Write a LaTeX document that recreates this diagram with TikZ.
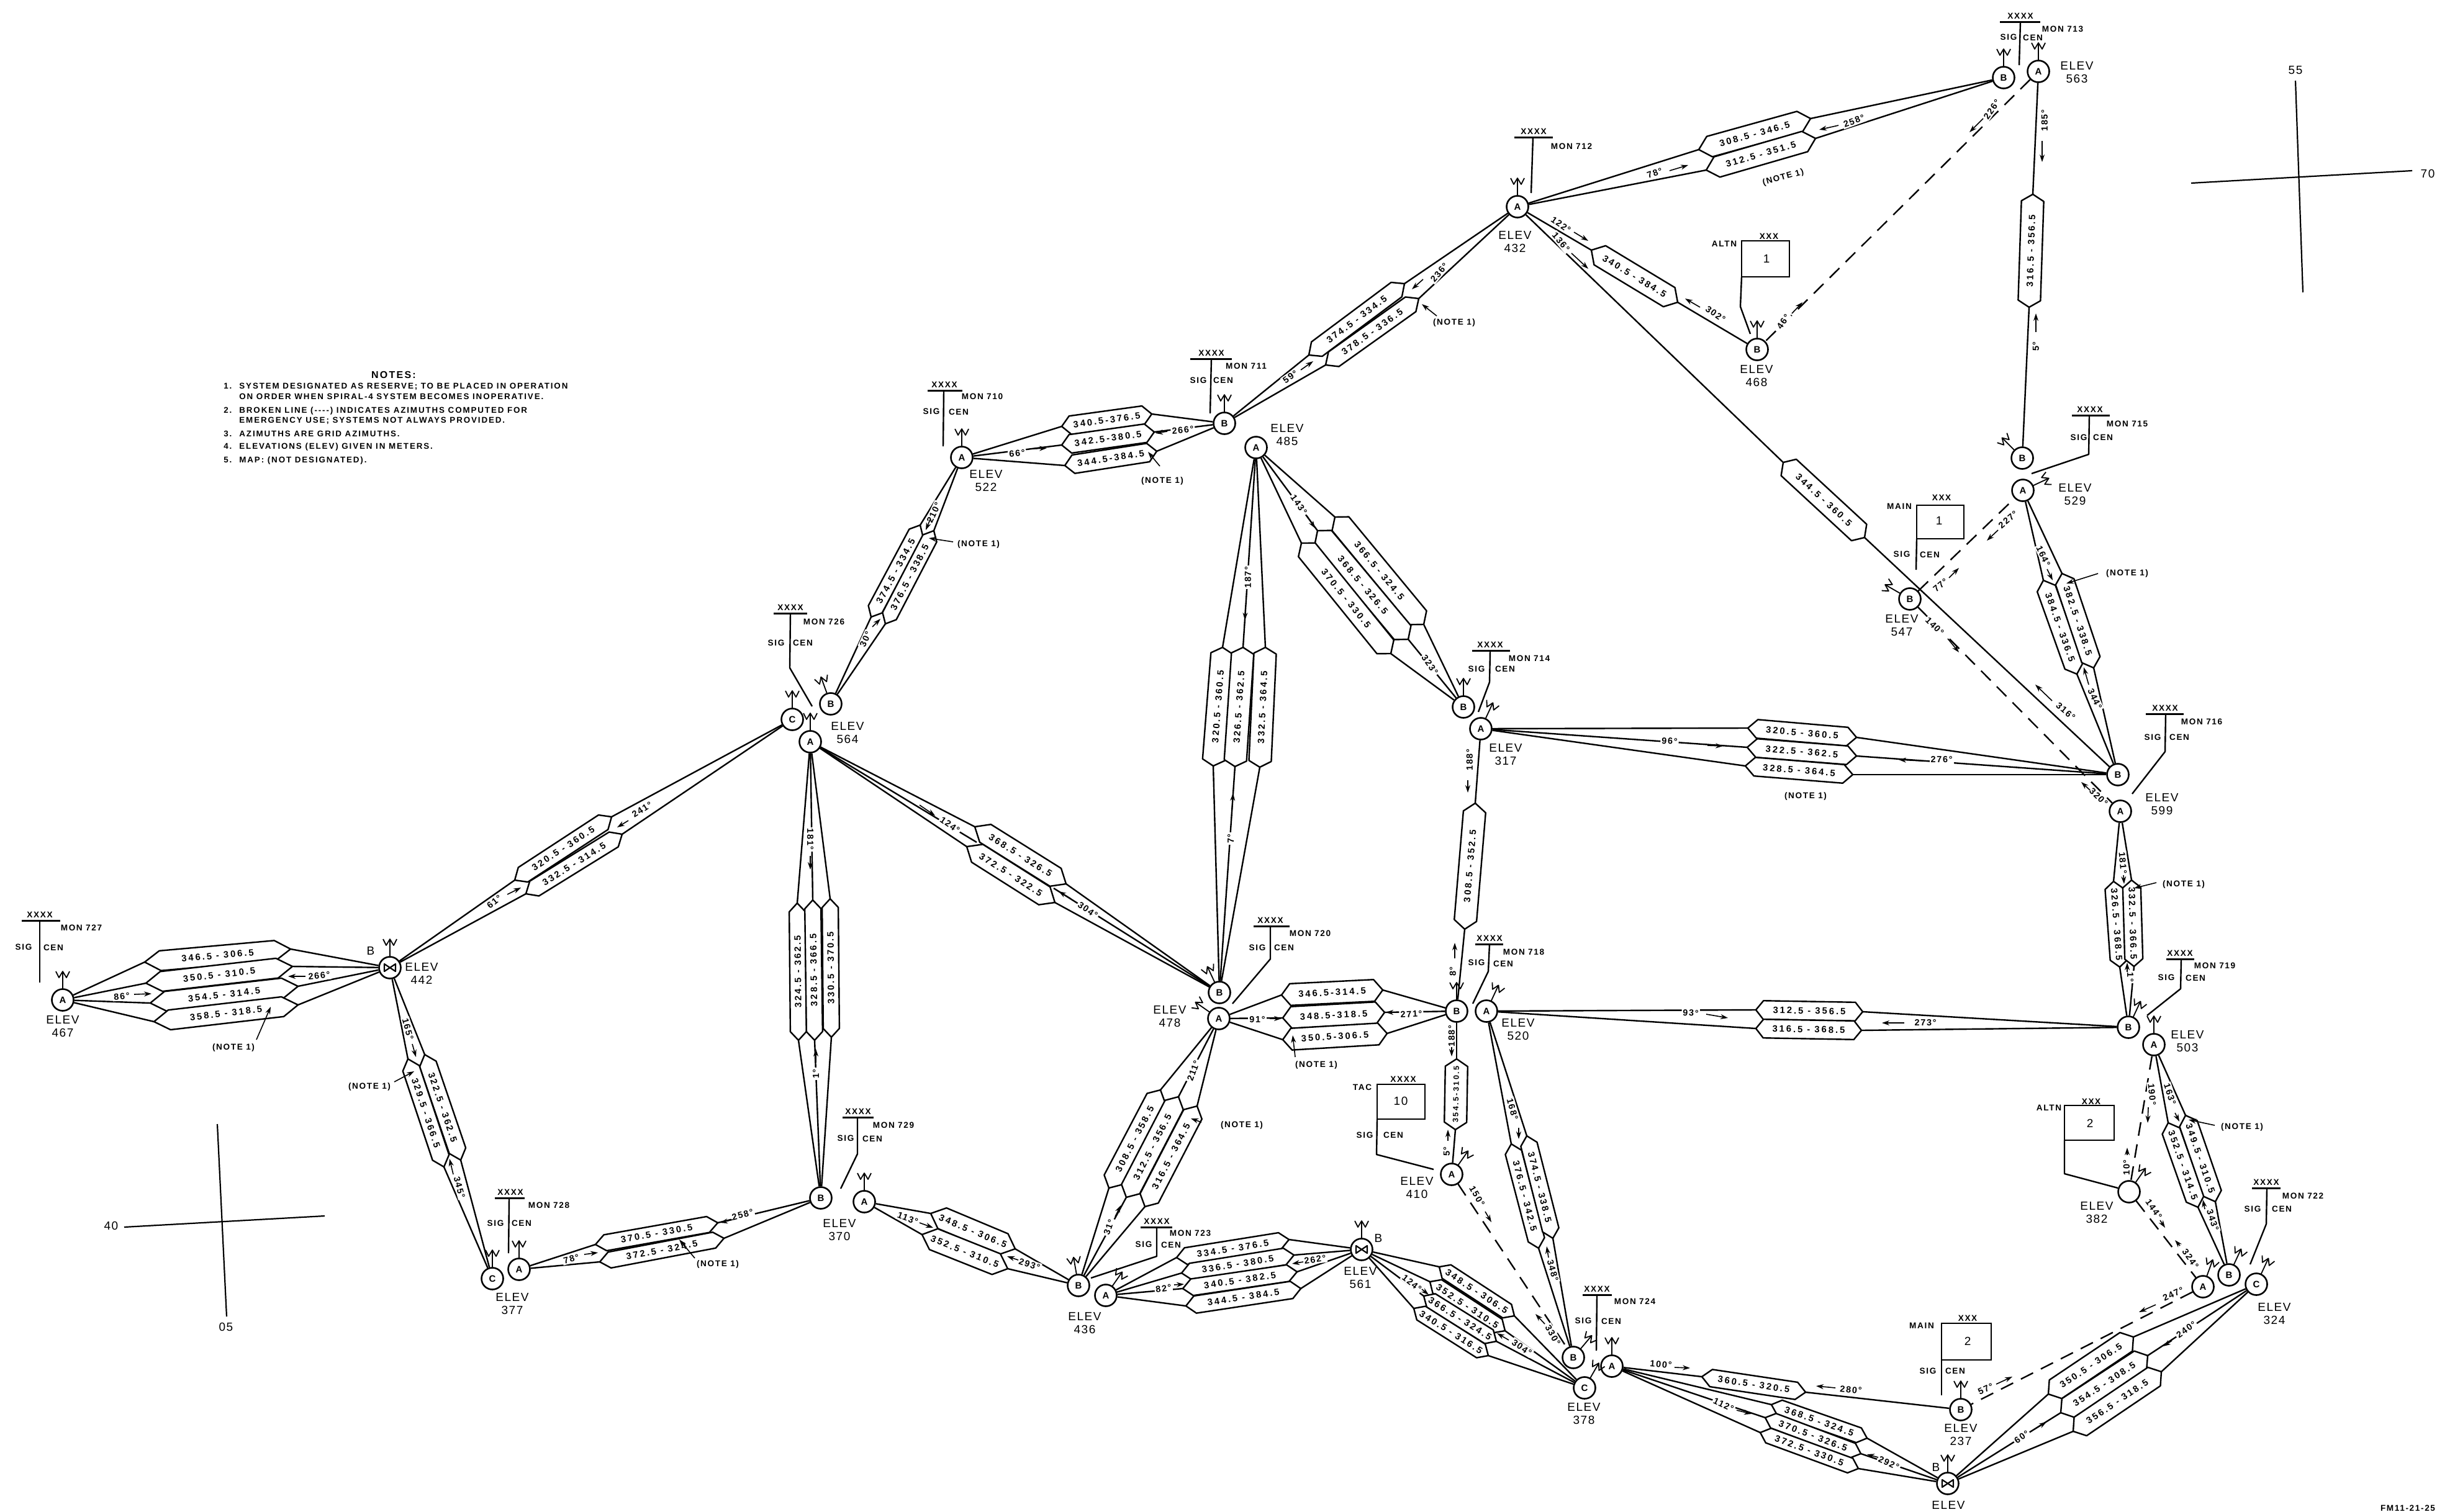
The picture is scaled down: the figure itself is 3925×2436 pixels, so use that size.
\documentclass[tikz,border=0pt]{standalone}
\usepackage{fontspec}
\setmainfont{Liberation Sans}
\newfontfamily\barf[LetterSpace=20]{Liberation Sans}
\newfontfamily\minif[LetterSpace=12]{Liberation Sans}
\newfontfamily\bigf[LetterSpace=8]{Liberation Sans}
\newfontfamily\notef[LetterSpace=14]{Liberation Sans}
\usetikzlibrary{arrows.meta}
\tikzset{
 link/.style={line width=1.2pt,line join=round},
 dashlink/.style={line width=1.2pt,dash pattern=on 11pt off 7pt},
 barshape/.style={draw,fill=white,line width=1.2pt,line join=round},
 bartext/.style={font=\barf\bfseries\fontsize{7.4}{8}\selectfont,inner sep=0pt},
 station/.style={circle,draw,fill=white,line width=1.3pt,minimum size=17.5pt,inner sep=0pt,font=\bfseries\fontsize{7.5}{8}\selectfont},
 minilab/.style={font=\minif\bfseries\fontsize{6.8}{8}\selectfont,inner sep=0pt},
 azlab/.style={font=\minif\bfseries\fontsize{7.2}{8}\selectfont,inner sep=1pt,fill=white},
 biglab/.style={font=\bigf\fontsize{9.5}{10.5}\selectfont,align=center,inner sep=0pt},
 notes/.style={font=\notef\bfseries\fontsize{6.7}{8}\selectfont,anchor=west,inner sep=0pt},
 azarrow/.style={line width=.8pt,-{Stealth[length=6pt,width=4pt]}},
 antline/.style={line width=.9pt,line join=round},
 grid/.style={line width=1.1pt},
 boxline/.style={draw,line width=1.2pt},
}
\newcounter{tx}
\newcommand\lab[3]{\stepcounter{tx}\node[minilab] (t\thetx) at (#1,#2) {#3};}
\newcommand\blab[3]{\stepcounter{tx}\node[biglab] (t\thetx) at (#1,#2) {#3};}
\newcommand\az[4]{\stepcounter{tx}\node[azlab,rotate=#3] (t\thetx) at (#1,#2) {#4};}
\newcommand\elev[3]{\stepcounter{tx}\node[biglab] (t\thetx) at (#1,#2) {ELEV\\#3};}
\newcommand\arr[4]{\stepcounter{tx}\coordinate (u\thetx) at (#1,#2);\coordinate (v\thetx) at (#3,#4);\draw[azarrow] (u\thetx) -- (v\thetx);}
\newcommand\stn[4]{\node[station] (#1) at (#2,#3) {#4};}
\newcommand\stnbow[3]{\node[station] (#1) at (#2,#3) {};
 \draw[line width=1.1pt,line join=round] (#2-9,#3-6) -- (#2+9,#3+6) -- (#2+9,#3-6) -- (#2-9,#3+6) -- cycle;}
\newcommand\ant[2]{\begin{scope}[shift={(#1.center)},rotate=-#2]
 \draw[antline] (0,-18) -- (0,-46);
 \draw[antline] (-11,-46) -- (-6,-36) -- (0,-46) -- (6,-36) -- (11,-46);
 \end{scope}}
\newcommand\conn[2]{\foreach \tp in {#2} {\draw[link] (#1) -- (\tp);}}
\newcommand\hexbar[8]{%
 \pgfmathsetmacro\hdx{#4-#2}\pgfmathsetmacro\hdy{#5-#3}%
 \pgfmathsetmacro\hl{veclen(\hdx,\hdy)}%
 \pgfmathsetmacro\hux{\hdx/\hl}\pgfmathsetmacro\huy{\hdy/\hl}%
 \pgfmathsetmacro\hnx{-\huy*#6}\pgfmathsetmacro\hny{\hux*#6}%
 \pgfmathsetmacro\hcx{\hux*#7}\pgfmathsetmacro\hcy{\huy*#7}%
 \pgfmathsetmacro\hang{atan2(-\hdy,\hdx)}%
 \coordinate (#1a) at (#2,#3);\coordinate (#1b) at (#4,#5);%
 \path[barshape] (#2,#3) -- (#2+\hcx+\hnx,#3+\hcy+\hny) -- (#4-\hcx+\hnx,#5-\hcy+\hny) -- (#4,#5) -- (#4-\hcx-\hnx,#5-\hcy-\hny) -- (#2+\hcx-\hnx,#3+\hcy-\hny) -- cycle;%
 \node[bartext,rotate=\hang] (#1t) at ({(#2+#4)/2},{(#3+#5)/2}) {#8};}
\newcommand\xbar[5]{\draw[link,line width=1.5pt] (#1,#3) -- (#2,#3);\lab{#4}{#3-9}{#5}}
\newcommand\sigcen[4]{\lab{#1}{#2}{SIG}\lab{#3}{#4}{CEN}}
\newcommand\nnum[1]{\makebox[12.5pt][l]{#1}}
\begin{document}
\begin{tikzpicture}[x=0.5pt,y=-0.5pt]
\useasboundingbox (0,0) rectangle (3925,2436);
% ---- stations
\stn{a467}{101}{1611}{A}\stnbow{b442}{628}{1559}\stn{c377}{793}{2060}{C}\stn{a377}{836}{2045}{A}
\stn{a522}{1549}{737}{A}\stn{b564}{1338}{1134}{B}\stn{c564}{1276}{1159}{C}\stn{a564}{1305}{1195}{A}
\stn{b711}{1972}{682}{B}\stn{a485}{2023}{721}{A}\stn{b714}{2357}{1139}{B}\stn{a317}{2385}{1174}{A}
\stn{b478}{1964}{1599}{B}\stn{a478}{1963}{1641}{A}\stn{b520}{2346}{1629}{B}\stn{a520}{2394}{1629}{A}
\stn{a410}{2338}{1892}{A}\stn{b436}{1737}{2071}{B}\stn{a436}{1781}{2087}{A}\stnbow{b561}{2193}{2013}
\stn{b378}{2534}{2187}{B}\stn{c378}{2552}{2236}{C}\stn{a378}{2596}{2201}{A}\stn{b237}{3158}{2271}{B}
\stnbow{bbot}{3137}{2390}\stn{n382}{3429}{1920}{}\stn{a324}{3548}{2073}{A}\stn{b324}{3590}{2054}{B}
\stn{c324}{3634}{2069}{C}\stn{b503}{3428}{1655}{B}\stn{a503}{3469}{1683}{A}\stn{a432}{2444}{333}{A}
\stn{b563}{3227}{125}{B}\stn{a563}{3283}{115}{A}\stn{b468}{2830}{563}{B}\stn{b529}{3257}{738}{B}
\stn{a529}{3258}{790}{A}\stn{b547}{3076}{965}{B}\stn{b599}{3411}{1248}{B}\stn{a599}{3415}{1307}{A}
\stn{a370}{1392}{1936}{A}\stn{b370}{1322}{1930}{B}
% ---- antennas
\ant{a467}{0}\ant{b442}{0}\ant{c377}{0}\ant{a377}{0}\ant{a522}{0}\ant{b711}{0}\ant{b564}{-20}\ant{c564}{0}\ant{a564}{0}
\ant{a432}{0}\ant{b563}{0}\ant{a563}{0}\ant{b468}{0}\ant{b529}{-45}\ant{a529}{65}\ant{b547}{-60}
\ant{b503}{25}\ant{a503}{0}\ant{n382}{35}\ant{a324}{20}\ant{b324}{25}\ant{c324}{25}\ant{b237}{0}\ant{bbot}{0}
\ant{a378}{0}\ant{c378}{30}\ant{b378}{40}\ant{a520}{25}\ant{b520}{0}\ant{a410}{35}\ant{a478}{-55}\ant{b478}{-25}
\ant{b436}{-10}\ant{a436}{35}\ant{b561}{0}\ant{a370}{0}\ant{b714}{0}\ant{a317}{25}
% ---- 467-442
\hexbar{p1}{233}{1550}{468}{1529}{16}{25}{346.5 - 306.5}
\hexbar{p2}{235}{1584}{471}{1557}{16}{25}{350.5 - 310.5}
\hexbar{p3}{242}{1616}{480}{1589}{16}{25}{354.5 - 314.5}
\hexbar{p4}{248}{1646}{480}{1619}{16}{25}{358.5 - 318.5}
\conn{a467}{p1a,p2a,p3a,p4a}\conn{b442}{p1b,p2b,p3b,p4b}
\az{196}{1605}{5}{86°}\arr{216}{1602}{244}{1601}\az{514}{1572}{5}{266°}\arr{492}{1573}{464}{1573}
\lab{376}{1688}{(NOTE 1)}\arr{413}{1675}{436}{1622}
\elev{101}{1654}{467}\elev{679}{1568}{442}\blab{597}{1532}{B}
\xbar{35}{97}{1483}{64}{XXXX}\draw[link] (64,1483) -- (64,1583);\lab{131}{1495}{MON 727}\sigcen{38}{1526}{86}{1527}
% ---- 442-377
\hexbar{q1}{684}{1699}{742}{1869}{14}{16}{322.5 - 362.5}
\hexbar{q2}{657}{1706}{715}{1880}{14}{16}{329.5 - 366.5}
\conn{b442}{q1a,q2a}\conn{c377}{q1b,q2b}
\az{657}{1658}{-75}{165°}\arr{664}{1682}{670}{1703}\lab{595}{1751}{(NOTE 1)}\arr{635}{1743}{667}{1726}
\az{740}{1913}{-75}{345°}\arr{730}{1892}{724}{1867}
\elev{825}{2101}{377}
\xbar{797}{845}{1930}{822}{XXXX}\draw[link] (820,1930) -- (819,2019);\lab{884}{1942}{MON 728}\sigcen{798}{1971}{840}{1971}
% ---- 377-370
\hexbar{r1}{959}{2005}{1156}{1970}{13}{16}{370.5 - 330.5}
\hexbar{r2}{966}{2033}{1166}{1995}{13}{16}{372.5 - 324.5}
\conn{a377}{r1a,r2a}\conn{b370}{r1b,r2b}
\az{920}{2028}{15}{78°}\arr{941}{2021}{963}{2018}\az{1196}{1957}{15}{258°}\arr{1180}{1965}{1160}{1970}
\lab{1156}{2037}{(NOTE 1)}\arr{1119}{2027}{1094}{1997}
% ---- 442-564
\hexbar{s1}{829}{1418}{985}{1316}{14}{16}{320.5 - 360.5}
\hexbar{s2}{847}{1440}{1002}{1344}{14}{16}{332.5 - 314.5}
\conn{b442}{s1a,s2a}\conn{c564}{s1b,s2b}
\az{796}{1453}{38}{61°}\arr{817}{1441}{839}{1430}\az{1034}{1304}{32}{241°}\arr{1012}{1322}{994}{1333}
% ---- 564-522
\hexbar{t1}{1403}{994}{1482}{846}{12.5}{14}{374.5 - 334.5}
\hexbar{t2}{1426}{1005}{1504}{855}{12.5}{14}{376.5 - 338.5}
\conn{b564}{t1a,t2a}\conn{a522}{t1b,t2b}
\az{1504}{826}{65}{210°}\arr{1498}{837}{1491}{854}\az{1394}{1030}{65}{30°}\arr{1405}{1010}{1418}{997}
\lab{1576}{877}{(NOTE 1)}\arr{1535}{873}{1496}{867}
\elev{1588}{775}{522}\elev{1365}{1181}{564}
\xbar{1494}{1550}{629}{1521}{XXXX}\draw[link] (1520,629) -- (1519,719);\lab{1582}{639}{MON 710}\sigcen{1500}{663}{1544}{664}
\xbar{1246}{1300}{988}{1273}{XXXX}\draw[link] (1273,988) -- (1272,1076) -- (1308,1138);\lab{1327}{1002}{MON 726}\sigcen{1250}{1036}{1293}{1036}
% ---- 522-711
\hexbar{v1}{1710}{687}{1855}{667}{15}{14}{340.5-376.5}
\hexbar{v2}{1710}{717}{1859}{696}{15}{14}{342.5-380.5}
\hexbar{v3}{1715}{750}{1863}{727}{15}{14}{344.5-384.5}
\conn{a522}{v1a,v2a,v3a}\conn{b711}{v1b,v2b,v3b}
\az{1638}{730}{5}{66°}\arr{1664}{723}{1686}{722}\az{1905}{693}{5}{266°}\arr{1880}{695}{1861}{698}
\lab{1872}{775}{(NOTE 1)}\arr{1868}{751}{1849}{728}
\xbar{1917}{1984}{578}{1951}{XXXX}\draw[link] (1951,578) -- (1949,666);\lab{2007}{590}{MON 711}\sigcen{1930}{613}{1970}{613}
% ---- 711-432
\hexbar{w1}{2108}{572}{2262}{457}{14.5}{16}{374.5 - 334.5}
\hexbar{w2}{2135}{588}{2285}{481}{14.5}{16}{378.5 - 336.5}
\conn{b711}{w1a,w2a}\conn{a432}{w1b,w2b}
\az{2318}{439}{50}{236°}\arr{2292}{450}{2274}{466}\az{2078}{607}{35}{59°}\arr{2095}{596}{2115}{582}
\lab{2342}{520}{(NOTE 1)}\arr{2314}{509}{2290}{490}
% ---- 432-563
\hexbar{x1}{2736}{241}{2916}{191}{17}{18}{308.5 - 346.5}
\hexbar{x2}{2748}{274}{2924}{223}{17}{18}{312.5 - 351.5}
\conn{a432}{x1a,x2a}\conn{b563}{x1b,x2b}
\az{2665}{279}{20}{78°}\arr{2689}{275}{2719}{266}\az{2986}{195}{20}{258°}\arr{2961}{202}{2930}{209}
\node[minilab,rotate=15] (nx) at (2872,286) {(NOTE 1)};
\elev{2440}{390}{432}
\xbar{2439}{2501}{221}{2470}{XXXX}\draw[link] (2469,221) -- (2466,311);\lab{2531}{236}{MON 712}
\xbar{3221}{3286}{35}{3254}{XXXX}\draw[link] (3254,35) -- (3252,105);\lab{3322}{47}{MON 713}\sigcen{3235}{60}{3274}{61}
\elev{3345}{117}{563}
\draw[dashlink] (a563) -- (b468);
\az{3208}{176}{55}{226°}\arr{3194}{191}{3172}{213}\az{2872}{518}{55}{46°}\arr{2886}{505}{2903}{487}
% ---- 563-529
\hexbar{y1}{3268}{495}{3274}{313}{18}{11}{316.5 - 356.5}
\conn{a563}{y1b}\conn{b529}{y1a}
\az{3293}{194}{90}{185°}\arr{3289}{227}{3289}{261}\az{3279}{558}{90}{5°}\arr{3279}{535}{3279}{505}
% ---- 432-468
\hexbar{z1}{2563}{403}{2702}{487}{18}{16}{340.5 - 384.5}
\conn{a432}{z1a}\conn{b468}{z1b}
\az{2514}{362}{-35}{122°}\arr{2535}{374}{2558}{388}\az{2763}{506}{-35}{302°}\arr{2738}{495}{2714}{481}
% ---- 432-599
\hexbar{z2}{2872}{745}{3003}{866}{18}{12}{344.5 - 360.5}
\conn{a432}{z2a}\conn{b599}{z2b}
\az{2514}{390}{-50}{136°}\arr{2531}{408}{2558}{433}\az{3327}{1146}{-40}{316°}\arr{3305}{1129}{3278}{1103}
% ---- 529-599
\hexbar{aa1}{3291}{935}{3345}{1086}{15.5}{14}{384.5 - 336.5}
\hexbar{aa2}{3321}{924}{3372}{1076}{15.5}{14}{382.5 - 338.5}
\conn{a529}{aa1a,aa2a}\conn{b599}{aa1b,aa2b}
\az{3291}{896}{-65}{164°}\arr{3297}{917}{3306}{935}\az{3374}{1126}{-65}{344°}\arr{3364}{1103}{3356}{1075}
\lab{3426}{924}{(NOTE 1)}\arr{3379}{924}{3328}{940}
\elev{3342}{797}{529}
\xbar{3337}{3398}{669}{3366}{XXXX}\draw[link] (3365,669) -- (3364,732) -- (3272,763);\lab{3426}{683}{MON 715}\sigcen{3348}{705}{3387}{705}
\draw[dashlink] (b547) -- (a529);\draw[dashlink] (b547) -- (a599);
\az{3234}{837}{40}{227°}\arr{3218}{854}{3200}{871}\az{3125}{943}{40}{77°}\arr{3139}{931}{3155}{915}
\az{3116}{1009}{-45}{140°}\arr{3137}{1029}{3155}{1051}\az{3380}{1284}{-45}{320°}\arr{3366}{1273}{3352}{1260}
\draw[boxline] (3087,814) rectangle (3163,868);\draw[link] (3087,868) -- (3086,918);
\lab{3127}{802}{XXX}\lab{3059}{816}{MAIN}\blab{3123}{839}{1}\sigcen{3063}{893}{3108}{894}\elev{3063}{1008}{547}
% ---- 317-599
\hexbar{ab1}{2815}{1173}{2990}{1188}{15}{15}{320.5 - 360.5}
\hexbar{ab2}{2814}{1204}{2990}{1218}{15}{15}{322.5 - 362.5}
\hexbar{ab3}{2811}{1234}{2984}{1248}{15}{15}{328.5 - 364.5}
\conn{a317}{ab1a,ab2a,ab3a}\conn{b599}{ab1b,ab2b,ab3b}
\az{2689}{1194}{-3}{96°}\arr{2750}{1201}{2775}{1202}\az{3127}{1224}{0}{276°}\arr{3096}{1226}{3058}{1224}
\lab{2908}{1283}{(NOTE 1)}
\elev{3482}{1296}{599}
\xbar{3456}{3517}{1150}{3487}{XXXX}\draw[link] (3488,1150) -- (3487,1211) -- (3434,1279);\lab{3546}{1163}{MON 716}\sigcen{3467}{1188}{3510}{1188}
% ---- 599-503
\hexbar{ac1}{3404}{1420}{3414}{1558}{14.5}{12}{326.5 - 368.5}
\hexbar{ac2}{3433}{1418}{3437}{1557}{14.5}{12}{332.5 - 366.5}
\conn{a599}{ac1a,ac2a}\conn{b503}{ac1b,ac2b}
\az{3419}{1390}{-85}{181°}\arr{3420}{1410}{3421}{1424}\az{3431}{1574}{-90}{1°}\arr{3426}{1566}{3426}{1551}
\lab{3517}{1425}{(NOTE 1)}\arr{3473}{1422}{3437}{1431}
\xbar{3489}{3534}{1545}{3511}{XXXX}\draw[link] (3513,1545) -- (3512,1593) -- (3458,1636);\lab{3567}{1556}{MON 719}\sigcen{3489}{1575}{3536}{1576}
\elev{3523}{1678}{503}
% ---- 520-503
\hexbar{ad1}{2828}{1627}{3000}{1630}{15}{12}{312.5 - 356.5}
\hexbar{ad2}{2828}{1657}{2998}{1660}{15}{12}{316.5 - 368.5}
\conn{a520}{ad1a,ad2a}\conn{b503}{ad1b,ad2b}
\az{2723}{1632}{-3}{93°}\arr{2748}{1634}{2783}{1640}\az{3101}{1648}{0}{273°}\arr{3067}{1648}{3031}{1648}
% ---- 520-378
\hexbar{ae1}{2434}{1843}{2478}{2011}{13.5}{14}{376.5 - 342.5}
\hexbar{ae2}{2459}{1830}{2501}{1995}{13.5}{14}{374.5 - 338.5}
\conn{a520}{ae1a,ae2a}\conn{b378}{ae1b,ae2b}
\az{2436}{1787}{-75}{168°}\arr{2446}{1817}{2446}{1835}\az{2501}{2047}{-75}{348°}\arr{2494}{2026}{2491}{2008}
\elev{2445}{1659}{520}
\xbar{2376}{2421}{1521}{2399}{XXXX}\draw[link] (2399,1521) -- (2397,1565) -- (2372,1617);\lab{2454}{1534}{MON 718}\sigcen{2378}{1551}{2421}{1553}
% ---- 520-317
\hexbar{af1}{2359}{1497}{2376}{1294}{18}{14}{308.5 - 352.5}
\conn{b520}{af1a}\conn{a317}{af1b}
\az{2367}{1224}{90}{188°}\arr{2364}{1257}{2364}{1277}\az{2340}{1565}{90}{8°}\arr{2343}{1544}{2343}{1519}
% ---- 520-410
\hexbar{ag1}{2344}{1820}{2346}{1706}{18}{12}{{\fontsize{6.2}{7}\selectfont 354.5-310.5}}
\conn{b520}{ag1b}\conn{a410}{ag1a}
\az{2338}{1669}{90}{188°}\arr{2338}{1687}{2338}{1702}\az{2330}{1855}{90}{5°}\arr{2332}{1838}{2332}{1820}
\draw[boxline] (2218,1747) rectangle (2295,1803);\draw[link] (2218,1803) -- (2217,1860) -- (2309,1884);
\lab{2260}{1739}{XXXX}\lab{2194}{1752}{TAC}\blab{2256}{1774}{10}\sigcen{2198}{1829}{2244}{1829}\elev{2282}{1914}{410}
\draw[dashlink] (a410) -- (b378);
\az{2379}{1927}{-60}{150°}\arr{2392}{1952}{2402}{1969}\az{2501}{2151}{-60}{330°}\arr{2488}{2133}{2473}{2117}
% ---- 478-520
\hexbar{ah1}{2064}{1603}{2227}{1595}{17.5}{14}{346.5-314.5}
\hexbar{ah2}{2066}{1640}{2230}{1631}{17.5}{14}{348.5-318.5}
\hexbar{ah3}{2066}{1675}{2234}{1665}{17.5}{14}{350.5-306.5}
\conn{a478}{ah1a,ah2a,ah3a}\conn{b520}{ah1b,ah2b,ah3b}
\az{2025}{1643}{0}{91°}\arr{2045}{1641}{2064}{1641}\az{2273}{1634}{3}{271°}\arr{2251}{1631}{2232}{1631}
\lab{2120}{1716}{(NOTE 1)}\arr{2086}{1703}{2082}{1668}
\elev{1884}{1638}{478}
\xbar{2019}{2077}{1492}{2046}{XXXX}\draw[link] (2046,1492) -- (2046,1545) -- (1985,1617);\lab{2110}{1504}{MON 720}\sigcen{2025}{1527}{2068}{1527}
% ---- 478-436
\hexbar{ai1}{1786}{1914}{1869}{1756}{16.5}{15}{308.5 - 358.5}
\hexbar{ai2}{1814}{1929}{1898}{1767}{16.5}{15}{312.5 - 356.5}
\hexbar{ai3}{1844}{1944}{1928}{1782}{16.5}{15}{316.5 - 364.5}
\conn{a478}{ai1b,ai2b,ai3b}\conn{b436}{ai1a,ai2a,ai3a}
\az{1922}{1725}{70}{211°}\az{1786}{1977}{70}{31°}\arr{1796}{1960}{1805}{1942}
\lab{2000}{1813}{(NOTE 1)}\arr{1935}{1808}{1918}{1802}
% ---- 436-561
\hexbar{aj1}{1895}{2026}{2076}{1997}{13.5}{15}{334.5 - 376.5}
\hexbar{aj2}{1903}{2051}{2084}{2022}{13.5}{15}{336.5 - 380.5}
\hexbar{aj3}{1905}{2076}{2089}{2049}{13.5}{15}{340.5 - 382.5}
\hexbar{aj4}{1910}{2104}{2095}{2076}{14}{15}{344.5 - 384.5}
\conn{a436}{aj1a,aj2a,aj3a,aj4a}\conn{b561}{aj1b,aj2b,aj3b,aj4b}
\az{1874}{2076}{8}{82°}\arr{1891}{2070}{1907}{2069}\az{2118}{2029}{8}{262°}\arr{2099}{2033}{2081}{2036}
\xbar{1837}{1888}{1977}{1863}{XXXX}\draw[link] (1863,1977) -- (1863,2024) -- (1757,2059);\lab{1917}{1987}{MON 723}\sigcen{1842}{2005}{1886}{2006}
\elev{1747}{2132}{436}\elev{2191}{2059}{561}\blab{2220}{1995}{B}
% ---- 561-378
\hexbar{ak1}{2318}{2041}{2439}{2120}{13}{14}{348.5 - 306.5}
\hexbar{ak2}{2303}{2065}{2424}{2144}{13}{14}{352.5 - 310.5}
\hexbar{ak3}{2293}{2088}{2410}{2161}{13}{14}{366.5 - 324.5}
\hexbar{ak4}{2277}{2108}{2397}{2184}{13}{14}{340.5 - 316.5}
\conn{b561}{ak1a,ak2a,ak3a,ak4a}\conn{c378}{ak1b,ak2b,ak3b,ak4b}
\az{2274}{2067}{-38}{124°}\arr{2290}{2077}{2301}{2086}\az{2451}{2171}{-35}{304°}\arr{2430}{2159}{2411}{2148}
% ---- 564-370
\hexbar{al1}{1286}{1676}{1284}{1455}{13}{14}{324.5 - 362.5}
\hexbar{al2}{1312}{1676}{1309}{1450}{13}{14}{328.5 - 366.5}
\hexbar{al3}{1339}{1671}{1337}{1448}{13}{14}{330.5 - 370.5}
\conn{a564}{al1b,al2b,al3b}\conn{b370}{al1a,al2a,al3a}
\az{1305}{1352}{-90}{181°}\arr{1305}{1379}{1305}{1401}\az{1314}{1730}{90}{1°}\arr{1314}{1712}{1314}{1690}
\elev{1352}{1982}{370}
\xbar{1357}{1407}{1800}{1382}{XXXX}\draw[link] (1381,1800) -- (1381,1859) -- (1354,1915);\lab{1439}{1813}{MON 729}\sigcen{1362}{1834}{1405}{1835}
% ---- 370-436
\hexbar{am1}{1499}{1955}{1635}{2012}{18}{20}{348.5 - 306.5}
\hexbar{am2}{1485}{1989}{1623}{2044}{18}{20}{352.5 - 310.5}
\conn{a370}{am1a,am2a}\conn{b436}{am1b,am2b}
\az{1462}{1963}{-20}{113°}\arr{1481}{1970}{1503}{1978}\az{1658}{2037}{-18}{293°}\arr{1640}{2030}{1622}{2024}
% ---- 564-478
\hexbar{an1}{1570}{1332}{1717}{1424}{17}{20}{368.5 - 326.5}
\hexbar{an2}{1557}{1364}{1699}{1454}{17}{20}{372.5 - 322.5}
\coordinate (anl) at (1573,1357);\coordinate (anr) at (1697,1431);
\conn{a564}{an1a,an2a,anl}\conn{b478}{an1b,an2b,anr}
\az{1530}{1329}{-35}{124°}\arr{1481}{1297}{1506}{1314}\az{1752}{1466}{-35}{304°}\arr{1725}{1448}{1705}{1436}
% ---- 485-478
\hexbar{ao1}{1954}{1234}{1969}{1043}{18}{10}{320.5 - 360.5}
\hexbar{ao2}{1989}{1235}{2002}{1043}{18}{10}{326.5 - 362.5}
\hexbar{ao3}{2029}{1236}{2038}{1043}{18}{10}{332.5 - 364.5}
\conn{a485}{ao1b,ao2b,ao3b}\conn{b478}{ao1a,ao2a,ao3a}
\az{2010}{930}{90}{187°}\arr{2006}{976}{2005}{999}\az{1982}{1351}{90}{7°}\arr{1984}{1308}{1986}{1278}
% ---- 485-714
\hexbar{ap1}{2150}{833}{2293}{1006}{17.5}{14}{366.5 - 324.5}
\hexbar{ap2}{2122}{855}{2268}{1030}{17.5}{14}{368.5 - 326.5}
\hexbar{ap3}{2096}{875}{2240}{1053}{17.5}{14}{370.5 - 330.5}
\conn{a485}{ap1a,ap2a,ap3a}\conn{b714}{ap1b,ap2b,ap3b}
\az{2092}{813}{-55}{143°}\arr{2105}{831}{2118}{851}\az{2303}{1071}{-55}{323°}
\elev{2073}{701}{485}\elev{2425}{1216}{317}
\xbar{2371}{2432}{1048}{2400}{XXXX}\draw[link] (2400,1048) -- (2399,1099) -- (2381,1147);\lab{2463}{1061}{MON 714}\sigcen{2378}{1078}{2424}{1078}
% ---- 378-237
\hexbar{aq1}{2741}{2218}{2908}{2243}{14}{15}{360.5 - 320.5}
\conn{a378}{aq1a}\conn{b237}{aq1b}
\az{2675}{2198}{-5}{100°}\arr{2697}{2203}{2722}{2204}\az{2981}{2239}{-5}{280°}\arr{2956}{2236}{2925}{2233}
% ---- 378-bottom
\hexbar{ar1}{2853}{2263}{3007}{2317}{12.5}{14}{368.5 - 324.5}
\hexbar{ar2}{2843}{2284}{2997}{2342}{12.5}{14}{370.5 - 326.5}
\hexbar{ar3}{2835}{2308}{2993}{2366}{12.5}{14}{372.5 - 330.5}
\conn{a378}{ar1a,ar2a,ar3a}\conn{bbot}{ar1b,ar2b,ar3b}
\az{2776}{2263}{-25}{112°}\arr{2797}{2272}{2821}{2278}\az{3042}{2357}{-25}{292°}\arr{3025}{2348}{3007}{2343}
\elev{2551}{2278}{378}\blab{3118}{2364}{B}\blab{3138}{2425}{ELEV}
\xbar{2549}{2596}{2086}{2572}{XXXX}\draw[link] (2572,2086) -- (2571,2176);\lab{2633}{2097}{MON 724}\sigcen{2550}{2128}{2595}{2129}
% ---- bottom-324
\hexbar{as1}{3299}{2246}{3436}{2154}{18}{14}{350.5 - 306.5}
\hexbar{as2}{3319}{2276}{3459}{2184}{18}{14}{354.5 - 308.5}
\hexbar{as3}{3339}{2306}{3481}{2210}{18}{14}{356.5 - 318.5}
\conn{bbot}{as1a,as2a,as3a}\conn{c324}{as1b,as2b,as3b}
\az{3256}{2315}{35}{60°}\arr{3276}{2303}{3296}{2291}\az{3521}{2142}{35}{240°}\arr{3498}{2160}{3484}{2169}
\draw[dashlink] (a324) -- (b237);
\az{3500}{2085}{25}{247°}\arr{3472}{2102}{3445}{2114}\az{3198}{2238}{25}{57°}\arr{3215}{2230}{3241}{2218}
\draw[boxline] (3127,2132) rectangle (3207,2191);\draw[link] (3127,2191) -- (3127,2248);
\lab{3169}{2124}{XXX}\lab{3095}{2136}{MAIN}\blab{3169}{2161}{2}\sigcen{3105}{2209}{3149}{2209}\elev{3158}{2312}{237}
% ---- 503-324
\hexbar{at1}{3492}{1809}{3540}{1945}{15}{14}{352.5 - 314.5}
\hexbar{at2}{3520}{1797}{3568}{1936}{15}{14}{349.5 - 310.5}
\conn{a503}{at1a,at2a}\conn{b324}{at1b,at2b}
\az{3495}{1763}{-72}{163°}\arr{3503}{1793}{3510}{1807}\az{3564}{1966}{-72}{343°}\arr{3551}{1948}{3548}{1933}
\lab{3611}{1816}{(NOTE 1)}\arr{3567}{1813}{3525}{1804}
\draw[dashlink] (a503) -- (n382);\draw[dashlink] (n382) -- (a324);
\az{3466}{1763}{-85}{190°}\arr{3460}{1784}{3459}{1809}\az{3425}{1881}{90}{10°}\arr{3426}{1861}{3426}{1849}
\az{3469}{1948}{-55}{144°}\arr{3479}{1966}{3487}{1978}\az{3528}{2028}{-55}{324°}\arr{3511}{2007}{3503}{1998}
\draw[boxline] (3325,1781) rectangle (3405,1837);\draw[link] (3325,1837) -- (3325,1891) -- (3411,1914);
\lab{3368}{1775}{XXX}\lab{3300}{1785}{ALTN}\blab{3366}{1810}{2}\elev{3377}{1954}{382}
\xbar{3627}{3673}{1914}{3650}{XXXX}\draw[link] (3651,1914) -- (3650,1972) -- (3624,2037);\lab{3709}{1927}{MON 722}\sigcen{3628}{1948}{3675}{1948}
\elev{3663}{2117}{324}
\lab{3878}{2430}{FM11-21-25}
% ---- ALTN 1
\draw[boxline] (2805,388) rectangle (2882,446);\draw[link] (2805,446) -- (2803,494) -- (2819,538);
\lab{2849}{381}{XXX}\lab{2777}{393}{ALTN}\blab{2845}{417}{1}\elev{2829}{606}{468}
% ---- grid ticks
\coordinate (g1a) at (350,1811);\coordinate (g1b) at (365,2121);\coordinate (g2a) at (200,1977);\coordinate (g2b) at (523,1959);
\draw[grid] (g1a) -- (g1b);\draw[grid] (g2a) -- (g2b);
\coordinate (g3a) at (3697,130);\coordinate (g3b) at (3709,471);\coordinate (g4a) at (3529,295);\coordinate (g4b) at (3885,275);
\draw[grid] (g3a) -- (g3b);\draw[grid] (g4a) -- (g4b);
\blab{179}{1975}{40}\blab{364}{2138}{05}\blab{3697}{113}{55}\blab{3910}{280}{70}
% ---- notes
\node[font=\notef\bfseries\fontsize{8}{9}\selectfont,inner sep=0pt] (nh) at (634,604) {NOTES:};
\node[notes] (n1) at (360,623) {\nnum{1.}SYSTEM DESIGNATED AS RESERVE; TO BE PLACED IN OPERATION};
\node[notes] (n1b) at (385,639) {ON ORDER WHEN SPIRAL-4 SYSTEM BECOMES INOPERATIVE.};
\node[notes] (n2) at (360,662) {\nnum{2.}BROKEN LINE (----) INDICATES AZIMUTHS COMPUTED FOR};
\node[notes] (n2b) at (385,678) {EMERGENCY USE; SYSTEMS NOT ALWAYS PROVIDED.};
\node[notes] (n3) at (360,699) {\nnum{3.}AZIMUTHS ARE GRID AZIMUTHS.};
\node[notes] (n4) at (360,720) {\nnum{4.}ELEVATIONS (ELEV) GIVEN IN METERS.};
\node[notes] (n5) at (360,742) {\nnum{5.}MAP: (NOT DESIGNATED).};
\end{tikzpicture}
\end{document}
